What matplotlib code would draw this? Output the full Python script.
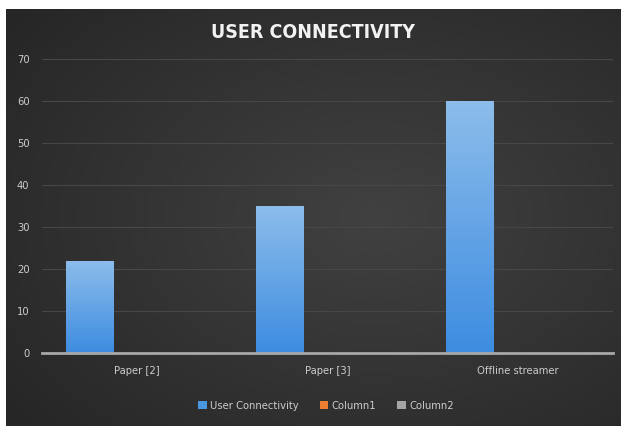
import numpy as np
import matplotlib
matplotlib.use("Agg")
import matplotlib.pyplot as plt
from matplotlib.patches import Patch

categories = ["Paper [2]", "Paper [3]", "Offline streamer"]
user_connectivity = [22, 35, 60]
column1 = [np.nan, np.nan, np.nan]
column2 = [np.nan, np.nan, np.nan]
series_names = ["User Connectivity", "Column1", "Column2"]
y_ticks = [0, 10, 20, 30, 40, 50, 60, 70]
title = "USER CONNECTIVITY"

plt.rcParams["font.family"] = ["DejaVu Sans"]
plt.rcParams["font.stretch"] = "condensed"

W, H = 621, 426
fig = plt.figure(figsize=(W / 100, H / 100), dpi=100)
fig.patch.set_facecolor("white")

# dark radial-gradient background panel
bg = fig.add_axes([6 / W, 0, (W - 6) / W, (H - 9) / H], zorder=0)
yy, xx = np.mgrid[0:1:300j, 0:1:400j]
r = np.sqrt(((xx - 0.6) / 0.8) ** 2 + ((yy - 0.5) / 0.8) ** 2)
g = np.clip(0.255 - 0.11 * r, 0.15, 0.26)
bg.imshow(np.dstack([g, g, g]), aspect="auto", extent=[0, 1, 0, 1], interpolation="bilinear")
bg.set_axis_off()

ax = fig.add_axes([42 / W, (H - 353) / H, (613 - 42) / W, (353 - 59) / H], zorder=1)
ax.patch.set_alpha(0)

x = np.arange(len(categories))
w = 0.25
colors = ["#4a97e0", "#ed7d31", "#a5a5a5"]
all_series = [user_connectivity, column1, column2]
for i, (vals, c) in enumerate(zip(all_series, colors)):
    bars = ax.bar(x + (i - 1) * w, np.nan_to_num(vals), width=w, color=c, zorder=3)
    if i == 0:
        grad = np.linspace(0, 1, 256).reshape(-1, 1)
        top = np.array([0.55, 0.74, 0.92])
        bot = np.array([0.24, 0.55, 0.88])
        img = top[None, None, :] * (1 - grad[:, :, None]) + bot[None, None, :] * grad[:, :, None]
        for b in bars:
            bx, by = b.get_x(), b.get_y()
            bw, bh = b.get_width(), b.get_height()
            im = ax.imshow(img, extent=[bx, bx + bw, by, by + bh], aspect="auto", zorder=4)
            im.set_clip_path(b)

ax.set_xlim(-0.5, 2.5)
ax.set_ylim(0, 70)
ax.set_yticks(y_ticks)
ax.set_xticks(x)
ax.set_xticklabels(categories)
ax.tick_params(axis="both", length=0, colors="#cccccc", labelsize=8)
ax.tick_params(axis="y", pad=9)
ax.tick_params(axis="x", pad=9)
ax.grid(axis="y", color="#474747", linewidth=0.8, zorder=1)
ax.set_axisbelow(True)
for s in ["top", "right", "left"]:
    ax.spines[s].set_visible(False)
ax.spines["bottom"].set_color("#a8a8a8")
ax.spines["bottom"].set_linewidth(2)
ax.spines["bottom"].set_zorder(5)

fig.text(313 / W, 1 - 33 / H, title, ha="center", va="center",
         color="#f2f2f2", fontsize=14, fontweight="bold", fontstretch="condensed")

handles = [Patch(facecolor=c, edgecolor="none") for c in colors]
leg = fig.legend(handles, series_names, loc="center", bbox_to_anchor=(326 / W, 1 - 406 / H),
                 ncol=3, frameon=False, fontsize=8, handlelength=0.75, handleheight=0.75,
                 handletextpad=0.3, columnspacing=1.9, labelcolor="#cccccc")

fig.savefig("out.png", dpi=100, facecolor=fig.get_facecolor())
